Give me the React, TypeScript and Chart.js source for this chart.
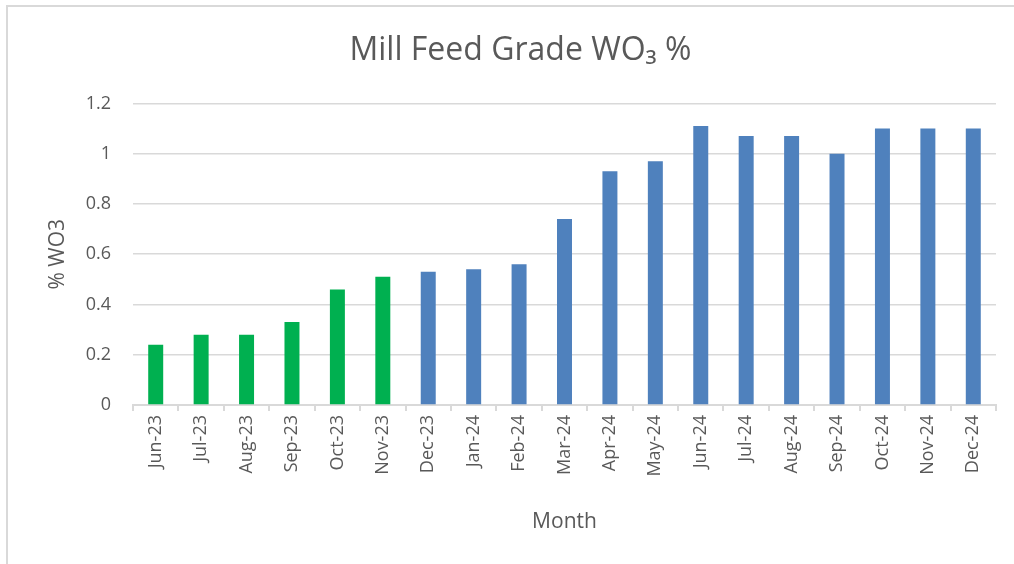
import React, { useEffect, useRef } from "react";
import { Chart, registerables } from "chart.js";

Chart.register(...registerables);

const months = [
  "Jun-23", "Jul-23", "Aug-23", "Sep-23", "Oct-23", "Nov-23", "Dec-23",
  "Jan-24", "Feb-24", "Mar-24", "Apr-24", "May-24", "Jun-24", "Jul-24",
  "Aug-24", "Sep-24", "Oct-24", "Nov-24", "Dec-24",
];
const gradeWO3 = [
  0.24, 0.28, 0.28, 0.33, 0.46, 0.51, 0.53,
  0.54, 0.56, 0.74, 0.93, 0.97, 1.11, 1.07,
  1.07, 1.0, 1.1, 1.1, 1.1,
];
const greenCount = 6;
const GREEN = "#00B050";
const BLUE = "#4F81BD";
const TEXT = "#595959";
const GRID = "#D9D9D9";
const FONT = "'Open Sans', 'Noto Sans', sans-serif";

export default function App() {
  const ref = useRef<HTMLCanvasElement | null>(null);
  useEffect(() => {
    if (!ref.current) return;
    const colors = months.map((_, i) => (i < greenCount ? GREEN : BLUE));
    const chart = new Chart(ref.current, {
      type: "bar",
      data: {
        labels: months,
        datasets: [
          {
            label: "% WO3",
            data: gradeWO3,
            backgroundColor: colors,
            borderWidth: 0,
            barPercentage: 0.33,
            categoryPercentage: 1,
          },
        ],
      },
      options: {
        animation: false,
        responsive: false,
        maintainAspectRatio: false,
        layout: { padding: { left: 45, right: 18, top: 0, bottom: 29 } },
        plugins: {
          legend: { display: false },
          tooltip: { enabled: false },
          title: {
            display: true,
            text: "Mill Feed Grade WO\u2083 %",
            color: TEXT,
            font: { family: FONT, size: 32, weight: "normal" },
            padding: { top: 32, bottom: 33 },
          },
        },
        scales: {
          x: {
            offset: true,
            grid: {
              offset: true,
              drawOnChartArea: false,
              drawTicks: true,
              tickLength: 6,
              color: GRID,
              lineWidth: 2,
            },
            border: { color: GRID, width: 2 },
            ticks: {
              color: TEXT,
              font: { family: FONT, size: 18 },
              minRotation: 90,
              maxRotation: 90,
              padding: 4,
              autoSkip: false,
            },
            title: {
              display: true,
              text: "Month",
              color: TEXT,
              font: { family: FONT, size: 21 },
              padding: 0,
            },
            afterFit: (scale: any) => {
              scale.height = 130;
            },
          },
          y: {
            min: 0,
            max: 1.2,
            ticks: {
              stepSize: 0.2,
              color: TEXT,
              font: { family: FONT, size: 18 },
              padding: 22,
              callback: (v: any) => String(Number(Number(v).toFixed(1))),
            },
            grid: { color: GRID, drawTicks: false, lineWidth: 1.5 },
            border: { display: false },
            title: {
              display: true,
              text: "% WO3",
              color: TEXT,
              font: { family: FONT, size: 21 },
              padding: 0,
            },
            afterFit: (scale: any) => {
              scale.width = 88;
            },
          },
        },
      },
    });
    return () => chart.destroy();
  }, []);

  return (
    <div style={{ position: "fixed", left: 0, top: 0, width: 1014, height: 564, background: "#fff", overflow: "hidden" }}>
      <div
        style={{
          position: "absolute",
          left: 6,
          top: 5,
          width: 1020,
          height: 580,
          border: "1px solid #D9D9D9",
          borderLeftWidth: 2,
          borderTopWidth: 2,
          boxSizing: "border-box",
        }}
      />
      <canvas ref={ref} width={1014} height={564} style={{ position: "absolute", left: 0, top: 0 }} />
    </div>
  );
}
